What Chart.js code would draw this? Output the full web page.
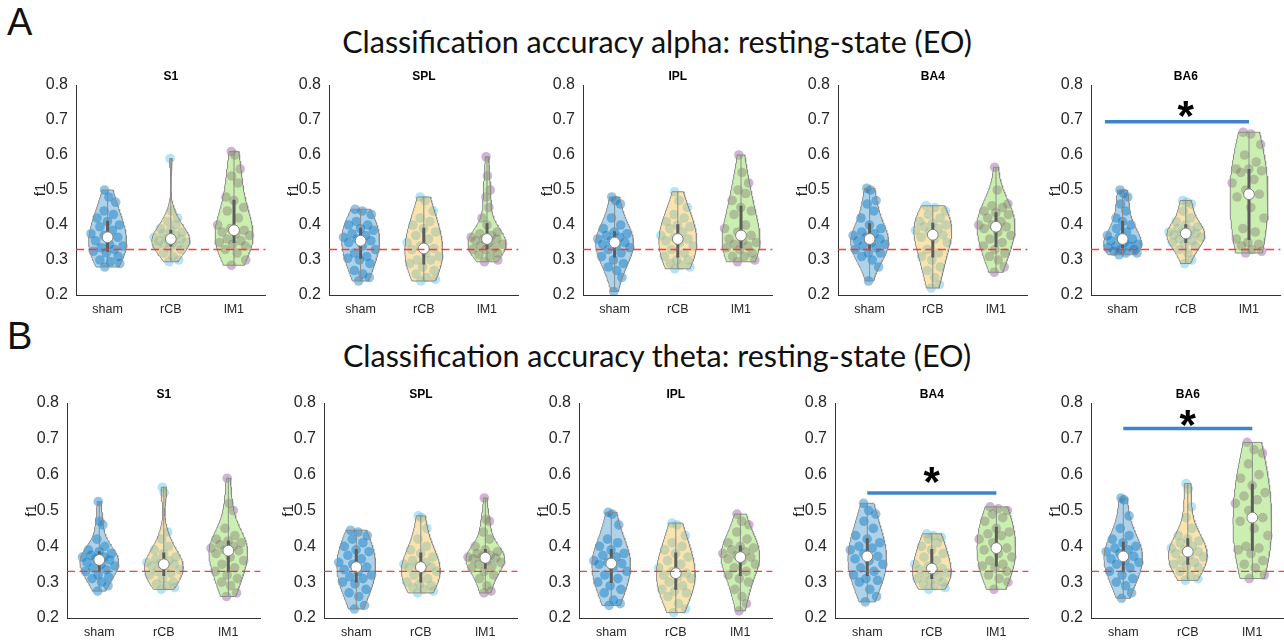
<!DOCTYPE html>
<html>
<head>
<meta charset="utf-8">
<title>Classification accuracy</title>
<script src="https://cdn.jsdelivr.net/npm/chart.js@4.4.1/dist/chart.umd.min.js"></script>
<style>
  body { margin: 0; background: #fff; }
  #page { position: relative; width: 1284px; height: 642px; overflow: hidden; background: #fff; }
  .letter { position: absolute; left: 7px; font: 38px "Liberation Sans", Arial, sans-serif; line-height: 1; color: #111; }
  .heading { position: absolute; left: 657px; transform: translateX(-50%); white-space: nowrap;
             font: 30.5px Lato, "Open Sans", sans-serif; line-height: 1; color: #111; }
  canvas { position: absolute; }
</style>
</head>
<body>
<div id="page">
  <div class="letter" style="top:3px">A</div>
  <div class="heading" style="top:26px">Classification accuracy alpha: resting-state (EO)</div>
  <div class="letter" style="top:317px">B</div>
  <div class="heading" style="top:340px">Classification accuracy theta: resting-state (EO)</div>
</div>
<script>
const groups = ["sham", "rCB", "lM1"];
const regions = ["S1", "SPL", "IPL", "BA4", "BA6"];
const yTicks = [0.2, 0.3, 0.4, 0.5, 0.6, 0.7, 0.8];
const chanceLevel = 0.33;

// f1 per subject, one list per group: sham, rCB, lM1
const alphaS1 = [
  [0.28,0.29,0.295,0.30,0.31,0.32,0.325,0.33,0.335,0.34,0.345,0.355,0.365,0.37,0.375,0.385,0.395,0.40,0.41,0.42,0.43,0.44,0.465,0.48,0.50],
  [0.295,0.30,0.31,0.32,0.33,0.335,0.34,0.34,0.345,0.35,0.35,0.355,0.36,0.36,0.365,0.37,0.375,0.38,0.385,0.39,0.40,0.41,0.42,0.44,0.59],
  [0.285,0.30,0.32,0.33,0.34,0.345,0.35,0.355,0.36,0.37,0.375,0.38,0.385,0.39,0.40,0.42,0.44,0.45,0.47,0.48,0.52,0.54,0.56,0.60,0.61]
];
const alphaSPL = [
  [0.24,0.25,0.26,0.27,0.29,0.30,0.305,0.31,0.32,0.33,0.34,0.35,0.355,0.36,0.365,0.37,0.375,0.385,0.39,0.40,0.40,0.41,0.43,0.44,0.445],
  [0.24,0.245,0.25,0.26,0.27,0.28,0.29,0.30,0.30,0.31,0.32,0.33,0.333,0.34,0.35,0.36,0.37,0.38,0.39,0.40,0.41,0.42,0.44,0.47,0.48],
  [0.295,0.30,0.31,0.315,0.32,0.33,0.33,0.335,0.34,0.345,0.35,0.355,0.36,0.36,0.365,0.37,0.375,0.38,0.40,0.42,0.45,0.48,0.50,0.54,0.595]
];
const alphaIPL = [
  [0.21,0.25,0.27,0.28,0.29,0.30,0.31,0.32,0.33,0.335,0.34,0.345,0.35,0.355,0.36,0.365,0.37,0.375,0.38,0.39,0.40,0.42,0.46,0.47,0.48],
  [0.275,0.28,0.285,0.29,0.30,0.30,0.31,0.32,0.33,0.34,0.35,0.355,0.36,0.365,0.37,0.38,0.39,0.395,0.40,0.41,0.42,0.43,0.45,0.47,0.495],
  [0.295,0.30,0.31,0.31,0.32,0.33,0.335,0.34,0.345,0.35,0.355,0.36,0.37,0.38,0.39,0.40,0.43,0.44,0.45,0.47,0.49,0.50,0.52,0.55,0.60]
];
const alphaBA4 = [
  [0.24,0.28,0.30,0.31,0.32,0.32,0.33,0.335,0.34,0.345,0.35,0.355,0.36,0.365,0.37,0.375,0.38,0.39,0.40,0.42,0.44,0.46,0.47,0.50,0.505],
  [0.22,0.23,0.25,0.27,0.28,0.30,0.31,0.32,0.33,0.35,0.36,0.365,0.372,0.38,0.385,0.39,0.395,0.40,0.405,0.41,0.42,0.43,0.44,0.45,0.455],
  [0.265,0.28,0.30,0.31,0.32,0.33,0.34,0.35,0.36,0.37,0.38,0.39,0.395,0.40,0.40,0.41,0.42,0.43,0.435,0.44,0.45,0.455,0.46,0.50,0.565]
];
const alphaBA6 = [
  [0.315,0.32,0.32,0.325,0.33,0.33,0.335,0.34,0.34,0.345,0.35,0.355,0.36,0.365,0.37,0.38,0.39,0.40,0.41,0.42,0.44,0.46,0.48,0.49,0.50],
  [0.29,0.30,0.32,0.33,0.34,0.345,0.35,0.355,0.36,0.365,0.37,0.372,0.376,0.378,0.38,0.385,0.39,0.395,0.40,0.41,0.42,0.44,0.46,0.465,0.47],
  [0.32,0.325,0.33,0.34,0.345,0.35,0.36,0.38,0.39,0.42,0.45,0.48,0.488,0.50,0.52,0.53,0.55,0.555,0.56,0.56,0.58,0.60,0.63,0.66,0.665]
];
const thetaS1 = [
  [0.275,0.29,0.30,0.31,0.315,0.32,0.33,0.335,0.34,0.345,0.35,0.355,0.362,0.365,0.37,0.37,0.375,0.38,0.385,0.39,0.40,0.42,0.46,0.47,0.525],
  [0.28,0.285,0.29,0.295,0.30,0.31,0.32,0.325,0.33,0.335,0.34,0.345,0.35,0.352,0.355,0.36,0.365,0.37,0.38,0.39,0.40,0.42,0.44,0.55,0.565],
  [0.26,0.27,0.29,0.30,0.31,0.32,0.33,0.34,0.35,0.36,0.37,0.38,0.388,0.39,0.395,0.40,0.405,0.41,0.415,0.42,0.43,0.45,0.50,0.52,0.59]
];
const thetaSPL = [
  [0.225,0.235,0.26,0.27,0.28,0.295,0.30,0.31,0.315,0.32,0.33,0.335,0.342,0.35,0.355,0.365,0.375,0.385,0.39,0.40,0.41,0.42,0.43,0.44,0.445],
  [0.27,0.275,0.28,0.285,0.29,0.295,0.30,0.31,0.32,0.33,0.335,0.34,0.342,0.345,0.35,0.355,0.36,0.37,0.38,0.39,0.40,0.42,0.45,0.48,0.485],
  [0.27,0.275,0.29,0.31,0.32,0.33,0.34,0.345,0.35,0.355,0.36,0.365,0.368,0.37,0.37,0.375,0.38,0.385,0.39,0.40,0.42,0.44,0.47,0.475,0.535]
];
const thetaIPL = [
  [0.235,0.24,0.25,0.27,0.28,0.29,0.30,0.31,0.32,0.33,0.34,0.35,0.352,0.355,0.36,0.37,0.375,0.38,0.39,0.40,0.41,0.42,0.46,0.49,0.495],
  [0.215,0.225,0.24,0.26,0.27,0.275,0.28,0.29,0.30,0.31,0.315,0.32,0.325,0.33,0.34,0.35,0.36,0.37,0.38,0.39,0.40,0.41,0.43,0.46,0.465],
  [0.22,0.24,0.26,0.28,0.30,0.31,0.32,0.33,0.34,0.35,0.36,0.365,0.37,0.375,0.38,0.385,0.39,0.395,0.40,0.41,0.42,0.44,0.46,0.47,0.49]
];
const thetaBA4 = [
  [0.245,0.26,0.28,0.30,0.305,0.31,0.32,0.33,0.34,0.35,0.36,0.365,0.372,0.38,0.39,0.395,0.40,0.41,0.42,0.43,0.45,0.47,0.49,0.50,0.52],
  [0.28,0.285,0.29,0.295,0.30,0.305,0.31,0.315,0.32,0.325,0.33,0.335,0.338,0.345,0.35,0.36,0.37,0.38,0.39,0.40,0.41,0.42,0.425,0.43,0.435],
  [0.28,0.30,0.31,0.32,0.33,0.34,0.345,0.35,0.36,0.37,0.38,0.39,0.395,0.41,0.42,0.43,0.435,0.44,0.45,0.47,0.48,0.49,0.50,0.505,0.51]
];
const thetaBA6 = [
  [0.255,0.27,0.29,0.30,0.31,0.32,0.33,0.34,0.35,0.355,0.36,0.365,0.372,0.38,0.385,0.39,0.395,0.40,0.41,0.42,0.43,0.45,0.485,0.53,0.535],
  [0.305,0.31,0.32,0.33,0.34,0.345,0.35,0.355,0.36,0.37,0.375,0.38,0.385,0.39,0.395,0.40,0.41,0.415,0.42,0.43,0.45,0.48,0.51,0.56,0.575],
  [0.31,0.32,0.34,0.35,0.36,0.38,0.39,0.395,0.40,0.43,0.45,0.47,0.48,0.50,0.52,0.53,0.54,0.55,0.57,0.59,0.60,0.63,0.66,0.67,0.69]
];

// significance brackets: group span, bar level, asterisk level
const sigBars = [
  { band: "alpha", region: "BA6", from: 0.72, to: 3, y: 0.695, starY: 0.731 },
  { band: "theta", region: "BA4", from: 1, to: 3, y: 0.549, starY: 0.599 },
  { band: "theta", region: "BA6", from: 1, to: 3, y: 0.729, starY: 0.757 }
];

const alphaPanels = [alphaS1, alphaSPL, alphaIPL, alphaBA4, alphaBA6];
const thetaPanels = [thetaS1, thetaSPL, thetaIPL, thetaBA4, thetaBA6];

// layout
const Y_AXIS_W = 52;
const TITLE_H = 24;
const X_AXIS_H = 26;
const rows = [
  { band: "alpha", panels: alphaPanels, top: 85, height: 210, unit: 64.5, lefts: [76, 329, 583, 838, 1091] },
  { band: "theta", panels: thetaPanels, top: 403, height: 215, unit: 66, lefts: [67, 324, 579, 835, 1091] }
];

const fillColors = ["rgba(0,114,189,0.32)", "rgba(237,177,32,0.36)", "rgba(110,210,40,0.36)"];
const pointColors = ["rgba(0,114,189,0.42)", "rgba(77,190,238,0.42)", "rgba(126,47,142,0.36)"];
const edgeColor = "#8c8c8c";
const textColor = "#262626";
const FONT = "'Liberation Sans', Arial, sans-serif";

// MATLAB style quantile
function quantile(sorted, p) {
  const n = sorted.length;
  const pos = n * p + 0.5;
  if (pos <= 1) return sorted[0];
  if (pos >= n) return sorted[n - 1];
  const i = Math.floor(pos);
  const f = pos - i;
  return sorted[i - 1] + f * (sorted[i] - sorted[i - 1]);
}

// gaussian kde truncated at data range, half width scaled to 0.3
function violinProfile(sorted) {
  const n = sorted.length;
  const med = quantile(sorted, 0.5);
  const dev = sorted.map(v => Math.abs(v - med)).sort((a, b) => a - b);
  const sig = quantile(dev, 0.5) / 0.6745;
  const h = 1.35 * sig * Math.pow(4 / (3 * n), 0.2);
  const lo = sorted[0], hi = sorted[n - 1];
  const steps = 80;
  const ys = [], dens = [];
  for (let i = 0; i <= steps; i++) {
    const y = lo + (hi - lo) * i / steps;
    let d = 0;
    sorted.forEach(v => { d += Math.exp(-0.5 * ((y - v) / h) ** 2); });
    ys.push(y);
    dens.push(d);
  }
  const maxD = Math.max(...dens);
  return { ys, ws: dens.map(d => d / maxD * 0.3) };
}

function widthAt(prof, y) {
  const { ys, ws } = prof;
  for (let i = 1; i < ys.length; i++) {
    if (y <= ys[i]) {
      const t = (y - ys[i - 1]) / (ys[i] - ys[i - 1] || 1);
      return ws[i - 1] + t * (ws[i] - ws[i - 1]);
    }
  }
  return ws[ws.length - 1];
}

// fixed scatter spread instead of rand()
function jitter(i) {
  return (((i * 0.6180339887 + 0.37) % 1) * 2 - 1) * 0.95;
}

const starLabel = {
  id: "starLabel",
  afterDatasetsDraw(chart, args, opts) {
    if (!opts.stars || !opts.stars.length) return;
    const { ctx, scales: { x, y } } = chart;
    ctx.save();
    ctx.fillStyle = "#000";
    ctx.textAlign = "center";
    ctx.textBaseline = "alphabetic";
    opts.stars.forEach(s => {
      ctx.font = "bold 100px " + FONT;
      const m = ctx.measureText("*");
      const hgt = m.actualBoundingBoxAscent + m.actualBoundingBoxDescent;
      const size = 100 * 16 / hgt;
      ctx.font = "bold " + size + "px " + FONT;
      const m2 = ctx.measureText("*");
      const cy = y.getPixelForValue(s.starY);
      const base = cy + (m2.actualBoundingBoxAscent - m2.actualBoundingBoxDescent) / 2;
      ctx.fillText("*", x.getPixelForValue(2), base);
    });
    ctx.restore();
  }
};

function buildDatasets(panel) {
  const datasets = [];

  panel.forEach((vals, g) => {
    const pos = g + 1;
    const sorted = [...vals].sort((a, b) => a - b);
    const n = sorted.length;
    const prof = violinProfile(sorted);

    datasets.push({
      type: "scatter",
      data: vals.map((v, i) => ({ x: pos + jitter(i) * widthAt(prof, v), y: v })),
      pointRadius: 4.8,
      backgroundColor: pointColors[g],
      borderWidth: 0,
      order: 6
    });

    const left = prof.ys.map((y, i) => ({ x: pos - prof.ws[i], y }));
    const right = prof.ys.map((y, i) => ({ x: pos + prof.ws[i], y })).reverse();
    const outline = [...left, ...right, left[0]];
    datasets.push({
      type: "line",
      data: outline,
      fill: "shape",
      backgroundColor: fillColors[g],
      borderColor: edgeColor,
      borderWidth: 1,
      pointRadius: 0,
      tension: 0,
      order: 5
    });

    datasets.push({
      type: "line",
      data: [{ x: pos, y: sorted[0] }, { x: pos, y: sorted[n - 1] }],
      borderColor: edgeColor,
      borderWidth: 1,
      pointRadius: 0,
      order: 4
    });

    datasets.push({
      type: "line",
      data: [{ x: pos, y: quantile(sorted, 0.25) }, { x: pos, y: quantile(sorted, 0.75) }],
      borderColor: "#5c5c5c",
      borderWidth: 3,
      borderCapStyle: "butt",
      pointRadius: 0,
      order: 3
    });

    datasets.push({
      type: "scatter",
      data: [{ x: pos, y: quantile(sorted, 0.5) }],
      pointRadius: 5.4,
      backgroundColor: "#ffffff",
      borderColor: "#808080",
      borderWidth: 1,
      order: 2
    });
  });

  datasets.push({
    type: "line",
    data: [{ x: 0.5, y: chanceLevel }, { x: 3.5, y: chanceLevel }],
    borderColor: "rgba(255,50,50,0.95)",
    borderWidth: 1.3,
    borderDash: [8, 4.5],
    pointRadius: 0,
    order: 1
  });

  return datasets;
}

function makePanel(row, k) {
  const page = document.getElementById("page");
  const canvas = document.createElement("canvas");
  const plotW = row.unit * 3;
  const W = Math.round(Y_AXIS_W + plotW + 2);
  const H = TITLE_H + row.height + X_AXIS_H;
  canvas.width = W;
  canvas.height = H;
  canvas.style.left = (row.lefts[k] - Y_AXIS_W) + "px";
  canvas.style.top = (row.top - TITLE_H) + "px";
  page.appendChild(canvas);

  const datasets = buildDatasets(row.panels[k]);
  const stars = [];
  sigBars
    .filter(s => s.band === row.band && s.region === regions[k])
    .forEach(s => {
      datasets.push({
        type: "line",
        data: [{ x: s.from, y: s.y }, { x: s.to, y: s.y }],
        borderColor: "#3d85c8",
        borderWidth: 3.5,
        borderCapStyle: "butt",
        pointRadius: 0,
        order: 0
      });
      stars.push(s);
    });

  new Chart(canvas, {
    type: "scatter",
    data: { datasets },
    plugins: [starLabel],
    options: {
      responsive: false,
      animation: false,
      events: [],
      layout: { padding: { left: 0, right: W - Y_AXIS_W - plotW, top: 0, bottom: 0 } },
      plugins: {
        legend: { display: false },
        tooltip: { enabled: false },
        title: {
          display: true,
          text: regions[k],
          fullSize: false,
          color: "#000",
          font: { family: FONT, size: 12, weight: "bold" },
          padding: { top: 8, bottom: 1.6 }
        },
        starLabel: { stars }
      },
      scales: {
        x: {
          type: "linear",
          min: 0.5,
          max: 3.5,
          afterBuildTicks: s => { s.ticks = groups.map((_, i) => ({ value: i + 1 })); },
          afterFit: s => { s.height = X_AXIS_H; },
          ticks: {
            callback: v => groups[v - 1],
            color: textColor,
            font: { family: FONT, size: 12.5 },
            padding: 7,
            maxRotation: 0,
            autoSkip: false
          },
          grid: { display: false, drawTicks: false },
          border: { display: true, color: "#333", width: 1 }
        },
        y: {
          type: "linear",
          min: 0.2,
          max: 0.8,
          afterBuildTicks: s => { s.ticks = yTicks.map(v => ({ value: v })); },
          afterFit: s => { s.width = Y_AXIS_W; },
          ticks: {
            callback: v => v.toFixed(1),
            color: textColor,
            font: { family: FONT, size: 16 },
            padding: 8
          },
          grid: { display: false, drawTicks: false },
          border: { display: true, color: "#333", width: 1 },
          title: {
            display: true,
            text: "f1",
            color: textColor,
            font: { family: FONT, size: 15 },
            padding: { top: 8, bottom: 0 }
          }
        }
      }
    }
  });
}

rows.forEach(row => {
  regions.forEach((r, k) => makePanel(row, k));
});
</script>
</body>
</html>
